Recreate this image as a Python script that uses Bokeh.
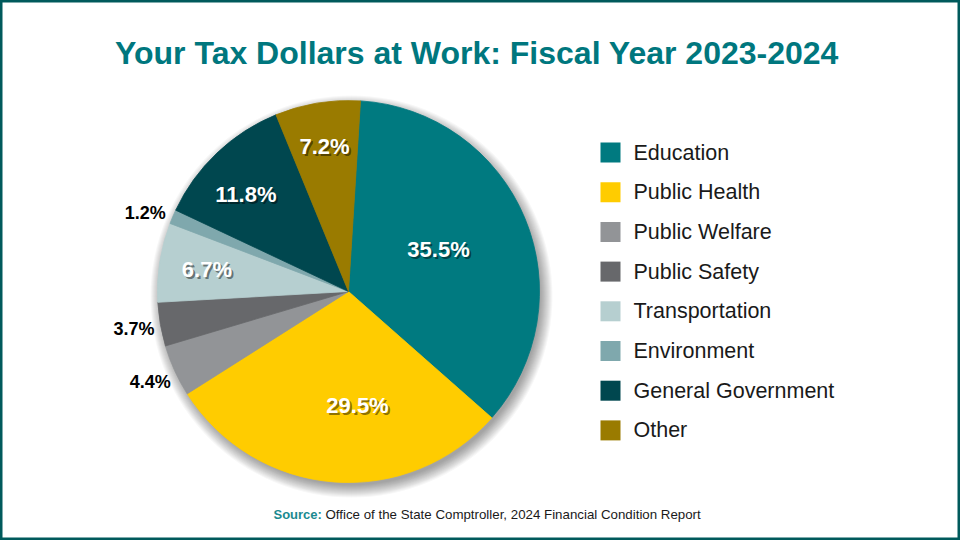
import math
from bokeh.plotting import figure
from bokeh.models import Range1d, ColumnDataSource
from bokeh.core.properties import value
from bokeh.embed import file_html
from bokeh.resources import INLINE

# ---- data ----
categories = ["Education", "Public Health", "Public Welfare", "Public Safety",
              "Transportation", "Environment", "General Government", "Other"]
shares = [35.5, 29.5, 4.4, 3.7, 6.7, 1.2, 11.8, 7.2]
colors = ["#007a80", "#ffcc00", "#929497", "#67686b",
          "#b6cfd0", "#7fa8ad", "#00474f", "#9a7b00"]
label_texts = ["35.5%", "29.5%", "4.4%", "3.7%", "6.7%", "1.2%", "11.8%", "7.2%"]
title_text = "Your Tax Dollars at Work: Fiscal Year 2023-2024"
source_label = "Source:"
source_text = "Office of the State Comptroller, 2024 Financial Condition Report"

# ---- layout (page px; y flipped so that y_data = 540 - page_y) ----
H = 540
FONT = "Liberation Sans"
TEAL = "#00777e"
cx, cy = 348, H - 291
R = 191
start_offset = 3.6  # degrees clockwise from 12 o'clock

p = figure(width=960, height=540, x_range=Range1d(0, 960), y_range=Range1d(0, 540),
           output_backend="svg", toolbar_location=None, min_border=0,
           background_fill_color="white", border_fill_color="white")
p.axis.visible = False
p.xgrid.visible = False
p.ygrid.visible = False
p.outline_line_color = "#005a5c"
p.outline_line_width = 4

# shadow under the pie
for k in range(12, -1, -1):
    p.circle(x=[cx + 3], y=[cy - 5], radius=R + k - 2, fill_color="black",
             fill_alpha=0.03, line_color=None)

# wedges
total = sum(shares)
starts, ends, mids = [], [], []
cum = 0.0
for v in shares:
    t0 = start_offset + cum / total * 360.0
    t1 = t0 + v / total * 360.0
    cum += v
    starts.append(math.radians(90 - t1))
    ends.append(math.radians(90 - t0))
    mids.append((t0 + t1) / 2)

src = ColumnDataSource(dict(start=starts, end=ends, color=colors, cat=categories))
p.wedge(x=cx, y=cy, radius=R, start_angle="start", end_angle="end",
        fill_color="color", line_color="color", line_width=0.8, source=src)

# labels
label_frac = [0.52, 0.6, 1.14, 1.14, 0.75, 1.14, 0.74, 0.77]
label_adj = [-2.5, -9.0, 0.0, 0.0, 0.0, -2.0, -3.0, 0.0]
inside = [True, True, False, False, True, False, True, True]
in_x, in_y, in_t, out_x, out_y, out_t = [], [], [], [], [], []
for i, t in enumerate(label_texts):
    th = math.radians(mids[i] + label_adj[i])
    r = label_frac[i] * R
    x = cx + r * math.sin(th)
    y = cy + r * math.cos(th)
    if inside[i]:
        in_x.append(x); in_y.append(y); in_t.append(t)
    else:
        out_x.append(x); out_y.append(y); out_t.append(t)

p.text(x=[x + 2 for x in in_x], y=[y - 2 for y in in_y], text=in_t,
       text_font=value(FONT), text_font_style="bold", text_font_size="22px",
       text_color="black", text_alpha=0.45, text_align="center", text_baseline="middle")
p.text(x=in_x, y=in_y, text=in_t,
       text_font=value(FONT), text_font_style="bold", text_font_size="22px",
       text_color="white", text_align="center", text_baseline="middle")
p.text(x=out_x, y=out_y, text=out_t,
       text_font=value(FONT), text_font_style="bold", text_font_size="18px",
       text_color="black", text_align="center", text_baseline="middle")

# title
p.text(x=[476.5], y=[H - 52], text=[title_text],
       text_font=value(FONT), text_font_style="bold", text_font_size="32px",
       text_color=TEAL, text_align="center", text_baseline="middle")

# legend
leg_y = [H - (152 + i * 39.7) for i in range(len(categories))]
p.rect(x=[610] * len(categories), y=leg_y, width=20, height=20,
       fill_color=colors, line_color=None)
p.text(x=[633] * len(categories), y=leg_y, text=categories,
       text_font=value(FONT), text_font_size="21.5px", text_color="#1a1a1a",
       text_align="left", text_baseline="middle")

# source
p.text(x=[273], y=[H - 514], text=[source_label],
       text_font=value(FONT), text_font_style="bold", text_font_size="13px",
       text_color="#1a8a90", text_align="left", text_baseline="middle")
p.text(x=[325], y=[H - 514], text=[source_text],
       text_font=value(FONT), text_font_size="13.3px",
       text_color="#1a1a1a", text_align="left", text_baseline="middle")

open("out.html", "w").write(file_html(p, INLINE))
